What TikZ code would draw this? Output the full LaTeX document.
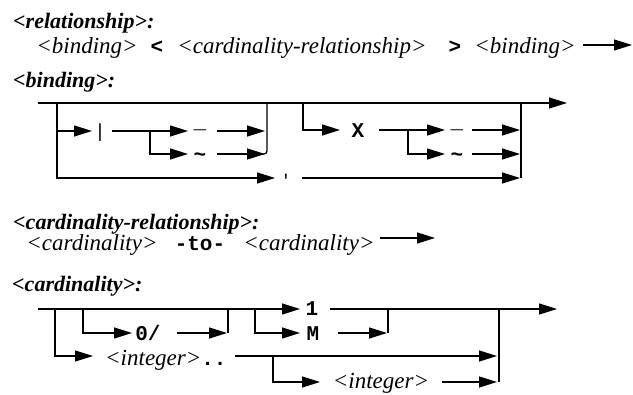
\documentclass[tikz,border=0pt]{standalone}
\usepackage{fontspec}
\setmainfont{Liberation Serif}
\newfontfamily\monob{Liberation Mono}[BoldFont=* Bold]
\usetikzlibrary{arrows.meta}
\tikzset{
  rr/.style={line width=1.3pt},
  arr/.style={rr,-{Triangle[length=18pt,width=11pt]}},
  hd/.style={anchor=base west,inner sep=0pt,font=\fontsize{22}{24}\selectfont\bfseries\itshape},
  it/.style={anchor=base,inner sep=0pt,font=\fontsize{23}{25}\selectfont\itshape},
  mo/.style={anchor=center,inner sep=0pt,font=\fontsize{21}{23}\selectfont\monob\bfseries},
}
\begin{document}
\begin{tikzpicture}[x=1pt,y=-1pt]
\useasboundingbox (0,0) rectangle (633,395);
\fill[white] (0,0) rectangle (633,395);

% ---------- relationship ----------
\node[hd] (hrel) at (13,29) {<relationship>:};
\node[it] (r1) at (87,54) {<binding>};
\node[mo] (rlt) at (157,47) {<};
\node[it] (r2) at (302,54) {<cardinality-relationship>};
\node[mo] (rgt) at (455,47) {>};
\node[it] (r3) at (525,54) {<binding>};
\coordinate (ra) at (583,45);
\coordinate (rb) at (632,45);
\draw[arr] (ra) -- (rb);

% ---------- binding ----------
\node[hd] (hbin) at (13,88) {<binding>:};
\coordinate (b0) at (38,103);
\coordinate (bL) at (57,103);
\coordinate (bEnd) at (567,103);
\coordinate (bJ1) at (267,103);
\coordinate (bS2) at (303,103);
\coordinate (bJ2) at (521,103);
\draw[arr] (b0) -- (bEnd);

\node[mo,font=\fontsize{19}{21}\selectfont\monob] (bbar) at (100,133) {|};
\node[mo] (bu1) at (200,130) {\_};
\node[mo] (bt1) at (200,157) {\textasciitilde};
\node[mo,font=\fontsize{17}{19}\selectfont\monob] (bq) at (286,180) {'};
\node[mo] (bx) at (358,131) {X};
\node[mo] (bu2) at (457,130) {\_};
\node[mo] (bt2) at (457,157) {\textasciitilde};

\coordinate (b1t) at (92,131);
\coordinate (bBt) at (275,178);
\draw[arr] (bL) |- (b1t);
\draw[arr] (bL) |- (bBt);
\coordinate (b1a) at (112,131);
\coordinate (b1b) at (188,131);
\coordinate (b1s) at (150,131);
\coordinate (b1c) at (188,154);
\draw[arr] (b1a) -- (b1b);
\draw[arr] (b1s) |- (b1c);
\coordinate (b2a) at (217,131);
\coordinate (b2b) at (265,131);
\coordinate (b2c) at (217,154);
\coordinate (b2d) at (265,154);
\draw[arr] (b2a) -- (b2b);
\draw[arr] (b2c) -- (b2d);
\coordinate (bJ1b) at (267,154);
\draw[rr,rounded corners=3pt] (260,154) -- (bJ1b) -- (bJ1);

\coordinate (bqa) at (302,178);
\coordinate (bqb) at (520,178);
\draw[arr] (bqa) -- (bqb);
\coordinate (bJ2b) at (521,178);
\draw[rr] (bJ2b) -- (bJ2);

\coordinate (bxt) at (340,130);
\draw[arr] (bS2) |- (bxt);
\coordinate (bxa) at (379,130);
\coordinate (bxb) at (445,130);
\coordinate (bxs) at (408,130);
\coordinate (bxc) at (445,154);
\draw[arr] (bxa) -- (bxb);
\draw[arr] (bxs) |- (bxc);
\coordinate (bya) at (472,130);
\coordinate (byb) at (520,130);
\coordinate (byc) at (472,154);
\coordinate (byd) at (520,154);
\draw[arr] (bya) -- (byb);
\draw[arr] (byc) -- (byd);

% ---------- cardinality-relationship ----------
\node[hd] (hcr) at (13,230) {<cardinality-relationship>:};
\node[it] (c1) at (92,251) {<cardinality>};
\node[mo] (cto) at (200,244) {-to-};
\node[it] (c2) at (309,251) {<cardinality>};
\coordinate (cra) at (380,238);
\coordinate (crb) at (435,238);
\draw[arr] (cra) -- (crb);

% ---------- cardinality ----------
\node[hd] (hcard) at (12,292) {<cardinality>:};
\coordinate (k0) at (38,309);
\coordinate (k1t) at (300,309);
\draw[arr] (k0) -- (k1t);
\node[mo] (kone) at (312,309) {1};
\coordinate (k1a) at (330,309);
\coordinate (k1b) at (557,309);
\draw[arr] (k1a) -- (k1b);

% 0/ branch
\coordinate (kz) at (83,309);
\coordinate (kzt) at (132,333);
\draw[arr] (kz) |- (kzt);
\node[mo] (kzero) at (148,333) {0/};
\coordinate (kza) at (177,333);
\coordinate (kzb) at (227,333);
\draw[arr] (kza) -- (kzb);
\coordinate (kzj) at (228,333);
\coordinate (kzj2) at (228,309);
\draw[rr] (kzj) -- (kzj2);

% M branch
\coordinate (km) at (255,309);
\coordinate (kmt) at (300,333);
\draw[arr] (km) |- (kmt);
\node[mo] (kM) at (313,334) {M};
\coordinate (kma) at (338,333);
\coordinate (kmb) at (387,333);
\draw[arr] (kma) -- (kmb);
\coordinate (kmj) at (388,333);
\coordinate (kmj2) at (388,309);
\draw[rr] (kmj) -- (kmj2);

% integer branch
\coordinate (ki) at (55,309);
\coordinate (kit) at (93,356);
\draw[arr] (ki) |- (kit);
\node[anchor=base west,inner sep=0pt] (kint) at (105,366)
  {\fontsize{23}{25}\selectfont\itshape <integer>\fontsize{21}{23}\selectfont\monob\bfseries\upshape..};
\coordinate (kia) at (235,356);
\coordinate (kib) at (497,356);
\draw[arr] (kia) -- (kib);
\coordinate (kis) at (273,356);
\coordinate (kist) at (320,382);
\draw[arr] (kis) |- (kist);
\node[it] (kint2) at (381,389) {<integer>};
\coordinate (kja) at (442,382);
\coordinate (kjb) at (497,382);
\draw[arr] (kja) -- (kjb);
\coordinate (kj) at (499,382);
\coordinate (kj2) at (499,309);
\draw[rr] (kj) -- (kj2);
\end{tikzpicture}
\end{document}
